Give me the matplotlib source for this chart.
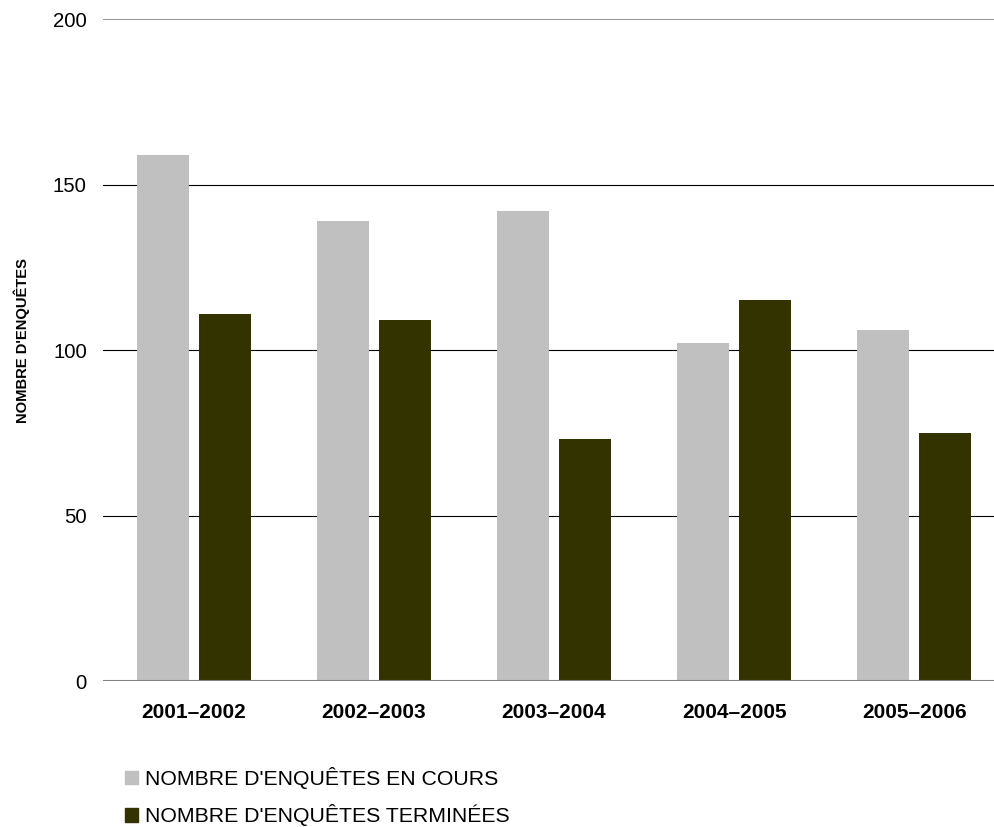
import matplotlib
matplotlib.use('Agg')
import matplotlib.pyplot as plt
import numpy as np
from matplotlib.patches import Patch

plt.rcParams['font.family'] = ['Liberation Sans', 'DejaVu Sans']

years = ['2001–2002', '2002–2003', '2003–2004', '2004–2005', '2005–2006']
en_cours = [159, 139, 142, 102, 106]
terminees = [111, 109, 73, 115, 75]
labels = ["NOMBRE D'ENQUÊTES EN COURS", "NOMBRE D'ENQUÊTES TERMINÉES"]
colors = ['#C0C0C0', '#333300']

fig = plt.figure(figsize=(9.95, 8.27), dpi=100)
# plot area runs a little past the right edge of the figure
ax = fig.add_axes([0.104, 0.1765, 0.9055, 0.8005])

x = np.arange(len(years))
w = 0.289
ax.bar(x - 0.172, en_cours, w, color=colors[0], zorder=3)
ax.bar(x + 0.172, terminees, w, color=colors[1], zorder=3)

ax.set_xlim(-0.5, len(years) - 0.5)
ax.set_ylim(0, 200)
ax.set_yticks([0, 50, 100, 150, 200])
for v in [50, 100, 150]:
    ax.axhline(v, color='black', lw=0.8, zorder=1)
ax.axhline(200, color='#808080', lw=1.2, zorder=1)
ax.axhline(0, color='#808080', lw=1.5, zorder=4)

for s in ax.spines.values():
    s.set_visible(False)
ax.tick_params(axis='both', length=0)
ax.tick_params(axis='y', labelsize=14.7, pad=12)
ax.set_xticks(x)
ax.set_xticklabels(years, fontsize=15, fontweight='bold')
ax.tick_params(axis='x', pad=16)

fig.text(0.022, 0.588, "NOMBRE D'ENQUÊTES", rotation=90, fontsize=10.6,
         fontweight='bold', ha='center', va='center')

handles = [Patch(color=c) for c in colors]
fig.legend(handles, labels, loc='upper left', bbox_to_anchor=(0.1256, 0.0725),
           bbox_transform=fig.transFigure, frameon=False, fontsize=15.3,
           handlelength=0.61, handleheight=0.61, handletextpad=0.33,
           labelspacing=0.72, borderpad=0, borderaxespad=0)

fig.savefig('out.png', dpi=100)
